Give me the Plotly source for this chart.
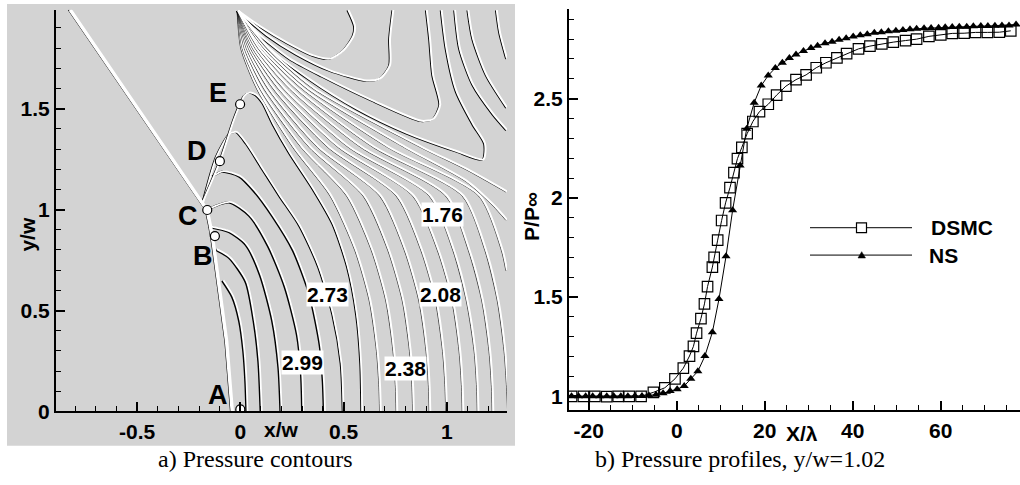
import plotly.graph_objects as go

# ---------------- right panel: pressure profiles ----------------
dsmc_x = [-23.9, -21.2, -18.6, -15.9, -13.3, -10.8, -8.1, -5.3, -2.7, -0.4, 1.5, 2.9, 3.8, 4.5, 5.5, 6.3, 7.0,
          8.1, 8.5, 9.3, 10.2, 11.1, 12.1, 13.0, 13.8, 14.8, 16.0, 17.3, 18.8, 20.8, 22.7, 24.8, 27.1, 29.4,
          31.7, 33.9, 36.4, 38.6, 41.3, 43.9, 46.6, 49.2, 52.0, 54.5, 57.3, 60.0, 62.6, 65.3, 67.9, 70.6, 73.3, 75.9]
dsmc_y = [1.0, 1.0, 1.0, 0.998, 1.0, 1.0, 1.0, 1.02, 1.043, 1.088, 1.142, 1.203, 1.252, 1.318, 1.392, 1.466,
          1.553, 1.651, 1.70, 1.787, 1.886, 1.975, 2.052, 2.127, 2.198, 2.255, 2.324, 2.385, 2.435, 2.472, 2.518,
          2.563, 2.596, 2.62, 2.656, 2.681, 2.706, 2.727, 2.751, 2.765, 2.776, 2.785, 2.793, 2.80, 2.814, 2.822,
          2.829, 2.83, 2.834, 2.834, 2.835, 2.842]
ns_x = [-23.9, -22.3, -20.7, -19.1, -17.5, -15.9, -14.3, -12.7, -11.1, -9.5, -7.9, -6.3, -4.7, -3.1, -1.5, 0.1,
        1.7, 3.2, 4.8, 6.4, 8.1, 9.6, 11.2, 12.7, 14.4, 15.9, 17.6, 19.2, 20.8, 22.4, 24.0, 25.6, 27.1, 28.8,
        30.5, 32.0, 33.7, 35.3, 36.9, 38.5, 40.1, 41.7, 43.3, 44.9, 46.5, 48.1, 49.8, 51.4, 53.0, 54.5, 56.2,
        57.8, 59.5, 61.0, 62.6, 64.2, 65.9, 67.4, 69.1, 70.7, 72.3, 73.9, 75.5, 77.1]
ns_y = [1.0, 1.0, 1.0, 1.0, 1.0, 1.0, 1.0, 1.0, 1.0, 1.001, 1.002, 1.004, 1.008, 1.015, 1.027, 1.035, 1.052,
        1.088, 1.126, 1.203, 1.323, 1.49, 1.706, 1.938, 2.163, 2.349, 2.48, 2.566, 2.617, 2.655, 2.681, 2.705,
        2.723, 2.74, 2.755, 2.767, 2.779, 2.787, 2.797, 2.804, 2.814, 2.82, 2.825, 2.832, 2.835, 2.84, 2.843,
        2.846, 2.85, 2.853, 2.855, 2.856, 2.858, 2.86, 2.861, 2.863, 2.863, 2.865, 2.866, 2.866, 2.868, 2.869,
        2.869, 2.874]

# ---------------- left panel: pressure contours ----------------
shock_x = [-0.824, -0.161, -0.145, -0.130, -0.098, -0.066, -0.039]
shock_y = [1.99, 0.998, 0.92, 0.828, 0.586, 0.344, 0.0]

point_names = ["A", "B", "C", "D", "E"]
point_x = [0.0, -0.123, -0.160, -0.099, -0.001]
point_y = [0.01, 0.869, 0.998, 1.24, 1.522]
point_lab_x = [-0.108, -0.181, -0.253, -0.21, -0.108]
point_lab_y = [0.082, 0.770, 0.969, 1.288, 1.579]

level_text = ["1.76", "2.73", "2.08", "2.99", "2.38"]
level_x = [0.979, 0.422, 0.970, 0.301, 0.80]
level_y = [0.978, 0.581, 0.581, 0.242, 0.211]

# arches starting at the shock (innermost first)
arch_x = [
    [-0.082, -0.034, 0.0, 0.02, 0.03, 0.035],
    [-0.114, -0.05, 0.031, 0.07, 0.093, 0.104],
    [-0.147, -0.05, 0.031, 0.10, 0.16, 0.19, 0.20],
    [-0.147, -0.05, 0.047, 0.14, 0.22, 0.28, 0.30, 0.305],
    [-0.131, -0.082, -0.001, 0.071, 0.16, 0.26, 0.34, 0.39, 0.405, 0.41],
    [-0.179, -0.114, -0.05, -0.017, 0.031, 0.111, 0.192, 0.29, 0.38, 0.45, 0.49, 0.50],
    [-0.185, -0.098, -0.032, -0.001, 0.02, 0.045, 0.075, 0.11, 0.16, 0.241, 0.354, 0.45, 0.52, 0.565, 0.585,
     0.59],
]
arch_y = [
    [0.65, 0.57, 0.45, 0.30, 0.15, 0.0],
    [0.804, 0.764, 0.644, 0.45, 0.25, 0.0],
    [0.917, 0.892, 0.828, 0.68, 0.45, 0.22, 0.0],
    [1.006, 1.038, 0.973, 0.82, 0.62, 0.38, 0.18, 0.0],
    [1.167, 1.191, 1.167, 1.094, 0.97, 0.80, 0.58, 0.33, 0.15, 0.0],
    [1.038, 1.264, 1.377, 1.385, 1.328, 1.2, 1.07, 0.92, 0.72, 0.48, 0.24, 0.0],
    [1.03, 1.24, 1.442, 1.522, 1.565, 1.58, 1.57, 1.53, 1.425, 1.28, 1.103, 0.93, 0.72, 0.48, 0.24, 0.0],
]

# fan lines from the corner reaching the bottom, sampled at fixed heights
fan_levels_y = [1.985, 1.80, 1.60, 1.31, 1.07, 0.80, 0.55, 0.30, 0.12, 0.0]
fan_x = [
    [-0.01, 0.008, 0.085, 0.26, 0.44, 0.56, 0.63, 0.665, 0.677, 0.68],
    [-0.01, 0.015, 0.10, 0.30, 0.52, 0.64, 0.71, 0.745, 0.757, 0.76],
    [-0.01, 0.025, 0.12, 0.34, 0.60, 0.72, 0.79, 0.825, 0.837, 0.84],
    [-0.01, 0.035, 0.14, 0.38, 0.68, 0.80, 0.87, 0.905, 0.917, 0.92],
    [-0.01, 0.045, 0.165, 0.43, 0.76, 0.88, 0.95, 0.985, 0.997, 1.0],
    [-0.01, 0.055, 0.19, 0.48, 0.84, 0.96, 1.03, 1.065, 1.077, 1.08],
    [-0.01, 0.065, 0.215, 0.53, 0.92, 1.035, 1.10, 1.138, 1.15, 1.153],
    [-0.01, 0.078, 0.245, 0.59, 1.00, 1.11, 1.175, 1.21, 1.222, 1.225],
    [-0.01, 0.092, 0.275, 0.65, 1.08, 1.19, 1.25, 1.283, 1.295, 1.30],
]

# fan lines from the corner leaving through the right edge
edge_x = [
    [-0.01, 0.105, 0.305, 0.72, 1.16, 1.27, 1.2915],
    [-0.01, 0.12, 0.33, 0.80, 1.10, 1.23, 1.2915],
    [-0.01, 0.135, 0.36, 0.88, 1.10, 1.2915],
]
edge_y = [
    [1.985, 1.80, 1.60, 1.31, 1.07, 0.80, 0.70],
    [1.985, 1.80, 1.60, 1.31, 1.14, 1.02, 0.95],
    [1.985, 1.80, 1.60, 1.31, 1.20, 1.09],
]

# U-shaped lines from the corner up to the top edge
u_x = [
    [-0.01, 0.095, 0.225, 0.354, 0.434, 0.499, 0.548, 0.555, 0.523],
    [-0.01, 0.128, 0.273, 0.434, 0.612, 0.677, 0.725, 0.725, 0.741],
    [-0.01, 0.08, 0.24, 0.40, 0.643, 0.878, 0.935, 0.968, 0.934, 0.919, 0.903],
    [-0.01, 0.14, 0.33, 0.564, 0.806, 1.047, 1.177, 1.185, 1.128, 1.047, 0.999, 0.975],
]
u_y = [
    [1.985, 1.909, 1.829, 1.764, 1.748, 1.788, 1.861, 1.909, 1.99],
    [1.985, 1.865, 1.77, 1.69, 1.64, 1.65, 1.716, 1.845, 1.99],
    [1.985, 1.879, 1.748, 1.66, 1.54, 1.44, 1.45, 1.52, 1.666, 1.845, 1.99],
    [1.985, 1.80, 1.65, 1.50, 1.38, 1.29, 1.249, 1.327, 1.424, 1.588, 1.797, 1.99],
]

# lines from the top edge to the right edge
top_x = [
    [1.04, 1.064, 1.128, 1.225, 1.2915],
    [1.104, 1.128, 1.193, 1.2915],
    [1.242, 1.258, 1.2915],
]
top_y = [
    [1.99, 1.797, 1.619, 1.474, 1.395],
    [1.99, 1.845, 1.667, 1.506],
    [1.99, 1.877, 1.748],
]

BOLD = "Liberation Sans"
LAB_FONT = dict(family=BOLD, size=21, color="black", weight="bold")
SERIF = dict(family="Liberation Serif", size=24, color="black")

fig = go.Figure()

SHADOW = 0.0055


def contour(xs, ys, black_w=0.7, white_w=2.0):
    fig.add_trace(go.Scatter(x=[v - SHADOW for v in xs], y=[v - SHADOW * 0.5 for v in ys], mode="lines",
                             line=dict(color="black", width=black_w, shape="spline", smoothing=0.7),
                             xaxis="x", yaxis="y", showlegend=False, hoverinfo="skip"))
    fig.add_trace(go.Scatter(x=xs, y=ys, mode="lines",
                             line=dict(color="white", width=white_w, shape="spline", smoothing=0.7),
                             xaxis="x", yaxis="y", showlegend=False, hoverinfo="skip"))


for xs, ys in zip(top_x, top_y):
    contour(xs, ys, 1.4)
for xs, ys in zip(u_x, u_y):
    contour(xs, ys, 1.5)
for xs, ys in zip(edge_x, edge_y):
    contour(xs, ys)
for xs in fan_x:
    contour(xs, fan_levels_y)
for i, (xs, ys) in enumerate(zip(arch_x, arch_y)):
    contour(xs, ys, 2.2 if i < 5 else 1.4, 1.8)

# shock
fig.add_trace(go.Scatter(x=[v - 0.008 for v in shock_x], y=shock_y, mode="lines",
                         line=dict(color="black", width=1.3), xaxis="x", yaxis="y",
                         showlegend=False, hoverinfo="skip"))
fig.add_trace(go.Scatter(x=shock_x, y=shock_y, mode="lines",
                         line=dict(color="white", width=3.5), xaxis="x", yaxis="y",
                         showlegend=False, hoverinfo="skip"))

# points A..E
fig.add_trace(go.Scatter(x=point_x, y=point_y, mode="markers",
                         marker=dict(symbol="circle", size=9, color="white", line=dict(color="black", width=1.2)),
                         xaxis="x", yaxis="y", showlegend=False, hoverinfo="skip"))

# right panel series
fig.add_trace(go.Scatter(x=dsmc_x, y=dsmc_y, mode="lines+markers", name="DSMC",
                         line=dict(color="black", width=1),
                         marker=dict(symbol="square-open", size=10.5, color="black", line=dict(width=1.2)),
                         xaxis="x2", yaxis="y2", showlegend=False))
fig.add_trace(go.Scatter(x=ns_x, y=ns_y, mode="lines+markers", name="NS",
                         line=dict(color="black", width=1),
                         marker=dict(symbol="triangle-up", size=8, color="black"),
                         xaxis="x2", yaxis="y2", showlegend=False))

annotations = []
for name, lx, ly in zip(point_names, point_lab_x, point_lab_y):
    annotations.append(dict(x=lx, y=ly, xref="x", yref="y", text=name, showarrow=False,
                            xanchor="center", yanchor="middle",
                            font=dict(family=BOLD, size=27, color="black", weight="bold")))
for t, lx, ly in zip(level_text, level_x, level_y):
    annotations.append(dict(x=lx, y=ly, xref="x", yref="y", text=t, showarrow=False, bgcolor="white",
                            xanchor="center", yanchor="middle", borderpad=0, font=LAB_FONT))

W, H = 1020, 485


def px(x):
    return x / W


def py(y):
    return 1 - y / H


def note(x, y, text, font, angle=0, xanchor="center"):
    return dict(x=px(x), y=py(y), xref="paper", yref="paper", text=text, showarrow=False,
                textangle=angle, xanchor=xanchor, yanchor="middle", font=font)


annotations += [
    note(281, 439, "x/w", LAB_FONT),
    note(28, 240, "y/w", LAB_FONT, angle=-90),
    note(802, 444, "X/λ", LAB_FONT),
    note(532, 222, "P/P∞", LAB_FONT, angle=-90),
    note(255, 470, "a) Pressure contours", SERIF),
    note(740, 470, "b) Pressure profiles, y/w=1.02", SERIF),
    note(929, 233, "DSMC", LAB_FONT, xanchor="left"),
    note(927, 261, "NS", LAB_FONT, xanchor="left"),
]

shapes = [
    dict(type="rect", xref="paper", yref="paper", x0=px(7), x1=px(515), y0=py(456), y1=py(4),
         fillcolor="#d3d3d3", line=dict(width=0), layer="below"),
    dict(type="line", xref="paper", yref="paper", x0=px(810), x1=px(912), y0=py(233), y1=py(233),
         line=dict(color="black", width=1)),
    dict(type="rect", xref="paper", yref="paper", x0=px(856.5), x1=px(866.5), y0=py(238), y1=py(228),
         fillcolor="white", line=dict(color="black", width=1.2)),
    dict(type="line", xref="paper", yref="paper", x0=px(810), x1=px(912), y0=py(261), y1=py(261),
         line=dict(color="black", width=1)),
    dict(type="path", xref="paper", yref="paper",
         path="M {} {} L {} {} L {} {} Z".format(px(858), py(264), px(865.5), py(264), px(861.7), py(257.5)),
         fillcolor="black", line=dict(color="black", width=0.5)),
]

axis_common = dict(showline=True, linecolor="black", linewidth=2, ticks="inside", ticklen=9, tickwidth=1.5,
                   tickcolor="black", showgrid=False, zeroline=False, mirror=False,
                   tickfont=dict(family=BOLD, size=21, color="black", weight="bold"))
minor_common = dict(ticklen=5, tickwidth=1.2, ticks="inside", tickcolor="black", showgrid=False)

fig.update_layout(
    width=W, height=H, margin=dict(l=0, r=0, t=0, b=0),
    paper_bgcolor="white", plot_bgcolor="rgba(0,0,0,0)", showlegend=False,
    xaxis=dict(domain=[px(56), px(507)], range=[-0.8925, 1.2915], anchor="y",
               tickvals=[-0.5, 0, 0.5, 1], ticktext=["-0.5", "0", "0.5", "1"],
               minor=dict(dtick=0.1, tick0=0, **minor_common), **axis_common),
    yaxis=dict(domain=[py(421), py(10)], range=[0, 1.990], anchor="x",
               tickvals=[0, 0.5, 1, 1.5], ticktext=["0", "0.5", "1", "1.5"],
               minor=dict(dtick=0.1, tick0=0, **minor_common), **axis_common),
    xaxis2=dict(domain=[px(569), 1.0], range=[-24.48, 78.0], anchor="y2",
                tickvals=[-20, 0, 20, 40, 60], ticktext=["-20", "0", "20", "40", "60"],
                minor=dict(dtick=5, tick0=0, **minor_common), **axis_common),
    yaxis2=dict(domain=[py(420), py(9)], range=[0.9286, 2.953], anchor="x2",
                tickvals=[1, 1.5, 2, 2.5], ticktext=["1", "1.5", "2", "2.5"],
                minor=dict(dtick=0.1, tick0=0, **minor_common), **axis_common),
    annotations=annotations,
    shapes=shapes,
)

fig.write_html("out.html")
